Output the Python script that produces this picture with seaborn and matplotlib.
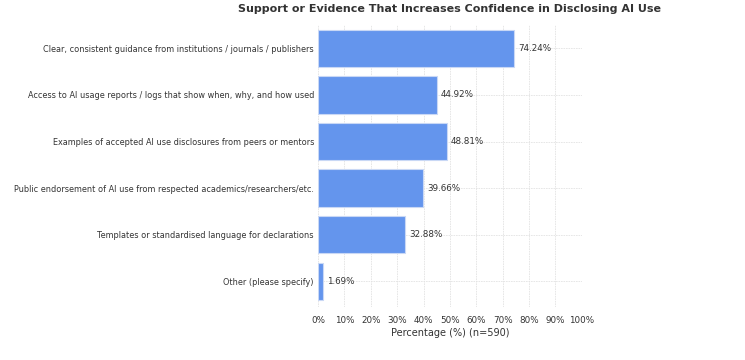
import matplotlib
matplotlib.use("Agg")
import matplotlib.pyplot as plt
import seaborn as sns
import pandas as pd

categories = [
    "Clear, consistent guidance from institutions / journals / publishers",
    "Access to AI usage reports / logs that show when, why, and how used",
    "Examples of accepted AI use disclosures from peers or mentors",
    "Public endorsement of AI use from respected academics/researchers/etc.",
    "Templates or standardised language for declarations",
    "Other (please specify)",
]
percentages = [74.24, 44.92, 48.81, 39.66, 32.88, 1.69]
xticks = [0, 10, 20, 30, 40, 50, 60, 70, 80, 90, 100]

df = pd.DataFrame({"Option": categories, "Percentage": percentages})

sns.set_theme(style="whitegrid")
plt.rcParams["font.family"] = ["DejaVu Sans"]

fig = plt.figure(figsize=(7.45, 3.6), dpi=100)
ax = fig.add_axes([0.427, 0.148, 0.354, 0.782])

sns.barplot(data=df, x="Percentage", y="Option", color="#6495ED", saturation=1,
            width=0.8, edgecolor="#c9d8f5", linewidth=0.8, ax=ax)

for i, v in enumerate(percentages):
    ax.text(v + 1.6, i, f"{v:.2f}%", va="center", ha="left", fontsize=6.3, color="#333333")

ax.set_xlim(0, 100)
ax.set_ylim(5.55, -0.5)
ax.set_xticks(xticks)
ax.set_xticklabels([f"{t}%" for t in xticks], fontsize=6.3, color="#333333")
ax.tick_params(axis="y", labelsize=5.9, labelcolor="#333333", length=2.0, width=0.6, color="#555555", pad=1)
ax.tick_params(axis="x", length=2.5, width=0.6, color="#555555", pad=4)
ax.set_ylabel("")
ax.set_xlabel("Percentage (%) (n=590)", fontsize=7.0, color="#333333", labelpad=2)
ax.grid(True, color="#e3e3e3", linestyle=(0, (2, 1)), linewidth=0.6)
ax.set_axisbelow(True)
for s in ax.spines.values():
    s.set_visible(False)

fig.text(0.604, 0.976, "Support or Evidence That Increases Confidence in Disclosing AI Use",
         ha="center", va="center", fontsize=8.0, fontweight="bold", color="#333333")

fig.savefig("out.png", dpi=100)
